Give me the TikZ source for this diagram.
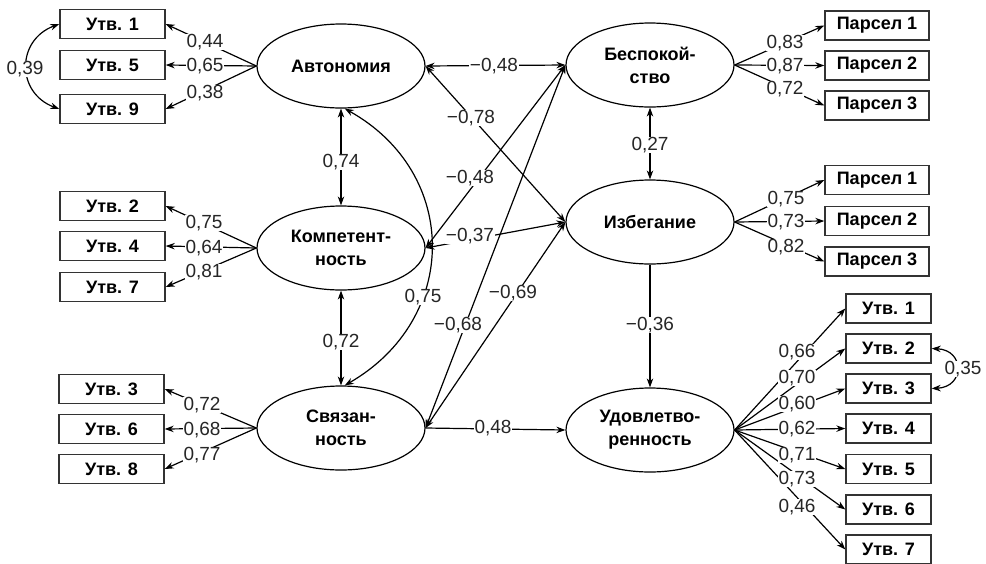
\documentclass[tikz,border=0pt]{standalone}
\usepackage{fontspec}
\setmainfont{Liberation Sans}
\usetikzlibrary{arrows.meta,shapes.geometric}
\begin{document}
\begin{tikzpicture}[x=1pt,y=-1pt,
  >={Stealth[length=9pt,width=6.5pt]},
  every node/.style={font=\fontsize{19}{23}\selectfont},
  obs/.style={draw=black!80, line width=1.4pt, minimum height=29pt, inner sep=0pt, font=\fontsize{18}{22}\selectfont\bfseries},
  obsL/.style={obs, minimum width=105pt},
  obsP/.style={obs, minimum width=104pt},
  obsR/.style={obs, minimum width=85pt},
  lat/.style={ellipse, draw, line width=1.2pt, minimum width=168pt, minimum height=84pt, inner sep=0pt, align=center, font=\fontsize{18}{23}\selectfont\bfseries},
  conn/.style={line width=1.2pt},
  lbl/.style={fill=white, inner sep=0.5pt, text=black!85}
]
\useasboundingbox (0,0) rectangle (986,563);

% latent variables
\node[lat] (A) at (341,66) {Автономия};
\node[lat] (K) at (341,248) {Компетент-\\ность};
\node[lat] (S) at (341,428) {Связан-\\ность};
\node[lat] (B) at (650,65) {Беспокой-\\ство};
\node[lat] (I) at (650,222) {Избегание};
\node[lat] (U) at (650,430) {Удовлетво-\\ренность};

% left indicators
\node[obsL] (L1) at (112.5,24) {Утв. 1};
\node[obsL] (L5) at (112.5,65) {Утв. 5};
\node[obsL] (L9) at (112.5,109) {Утв. 9};
\node[obsL] (L2) at (112.5,206) {Утв. 2};
\node[obsL] (L4) at (112.5,246) {Утв. 4};
\node[obsL] (L7) at (112.5,287) {Утв. 7};
\node[obsL] (L3) at (111.5,389) {Утв. 3};
\node[obsL] (L6) at (111.5,429) {Утв. 6};
\node[obsL] (L8) at (111.5,469) {Утв. 8};

% parcels
\node[obsP] (PA1) at (877,25.5) {Парсел 1};
\node[obsP] (PA2) at (877,65.5) {Парсел 2};
\node[obsP] (PA3) at (877,105.5) {Парсел 3};
\node[obsP] (PB1) at (877,180) {Парсел 1};
\node[obsP] (PB2) at (877,221) {Парсел 2};
\node[obsP] (PB3) at (877,261.5) {Парсел 3};

% right indicators
\node[obsR] (R1) at (888.5,308.5) {Утв. 1};
\node[obsR] (R2) at (888.5,348.5) {Утв. 2};
\node[obsR] (R3) at (888.5,388.5) {Утв. 3};
\node[obsR] (R4) at (888.5,428.5) {Утв. 4};
\node[obsR] (R5) at (888.5,469) {Утв. 5};
\node[obsR] (R6) at (888.5,509.5) {Утв. 6};
\node[obsR] (R7) at (888.5,549.5) {Утв. 7};

% loadings
\foreach \t in {L1,L5,L9} \draw[conn,->] (A.west) -- (\t.east);
\foreach \t in {L2,L4,L7} \draw[conn,->] (K.west) -- (\t.east);
\foreach \t in {L3,L6,L8} \draw[conn,->] (S.west) -- (\t.east);
\foreach \t in {PA1,PA2,PA3} \draw[conn,->] (B.east) -- (\t.west);
\foreach \t in {PB1,PB2,PB3} \draw[conn,->] (I.east) -- (\t.west);
\foreach \t in {R1,R2,R3,R4,R5,R6,R7} \draw[conn,->] (U.east) -- (\t.west);

% error correlations
\draw[conn,<->] (L1.west) .. controls (16,40) and (16,93) .. (L9.west);
\draw[conn,<->] (R2.east) .. controls (965,350) and (965,387) .. (R3.east);

% structural paths
\draw[conn,<->] (A.south) -- (K.north);
\draw[conn,<->] (K.south) -- (S.north);
\draw[conn,<->] (A.-85) .. controls (460,173) and (460,319) .. (S.85);
\draw[conn,<->] (A.east) -- (B.west);
\draw[conn,<->] (A.east) -- (I.west);
\draw[conn,<->] (K.east) -- (B.west);
\draw[conn,<->] (K.east) -- (I.west);
\draw[conn,<->] (S.east) -- (B.west);
\draw[conn,<->] (S.east) -- (I.west);
\draw[conn,->] (S.east) -- (U.west);
\draw[conn,<->] (B.south) -- (I.north);
\draw[conn,->] (I.south) -- (U.north);

% labels
\node[lbl] (a1) at (205,42) {0,44};
\node[lbl] (a2) at (205,66) {0,65};
\node[lbl] (a3) at (205,93) {0,38};
\node[lbl] (k1) at (204,223) {0,75};
\node[lbl] (k2) at (204,248) {0,64};
\node[lbl] (k3) at (204,272) {0,81};
\node[lbl] (s1) at (202,405) {0,72};
\node[lbl] (s2) at (202,430) {0,68};
\node[lbl] (s3) at (202,455) {0,77};
\node[lbl] (b1) at (785,43) {0,83};
\node[lbl] (b2) at (785,66) {0,87};
\node[lbl] (b3) at (785,89) {0,72};
\node[lbl] (i1) at (786,199) {0,75};
\node[lbl] (i2) at (786,222) {0,73};
\node[lbl] (i3) at (786,247) {0,82};
\node[lbl] (u1) at (797,352) {0,66};
\node[lbl] (u2) at (797,378) {0,70};
\node[lbl] (u3) at (797,404) {0,60};
\node[lbl] (u4) at (797,429) {0,62};
\node[lbl] (u5) at (797,455) {0,71};
\node[lbl] (u6) at (797,479) {0,73};
\node[lbl] (u7) at (797,507) {0,46};
\node[lbl] (c1) at (25,69) {0,39};
\node[lbl] (c2) at (963,369) {0,35};
\node[lbl] (c3) at (341,162) {0,74};
\node[lbl] (c4) at (341,342) {0,72};
\node[lbl] (c5) at (423,297) {0,75};
\node[lbl] (p1) at (494,66) {−0,48};
\node[lbl] (p2) at (471,118) {−0,78};
\node[lbl] (p3) at (470,178) {−0,48};
\node[lbl] (p4) at (470,236) {−0,37};
\node[lbl] (p5) at (458,325) {−0,68};
\node[lbl] (p6) at (513,293) {−0,69};
\node[lbl] (p7) at (493,428) {0,48};
\node[lbl] (p8) at (650,145) {0,27};
\node[lbl] (p9) at (650,325) {−0,36};
\end{tikzpicture}
\end{document}
